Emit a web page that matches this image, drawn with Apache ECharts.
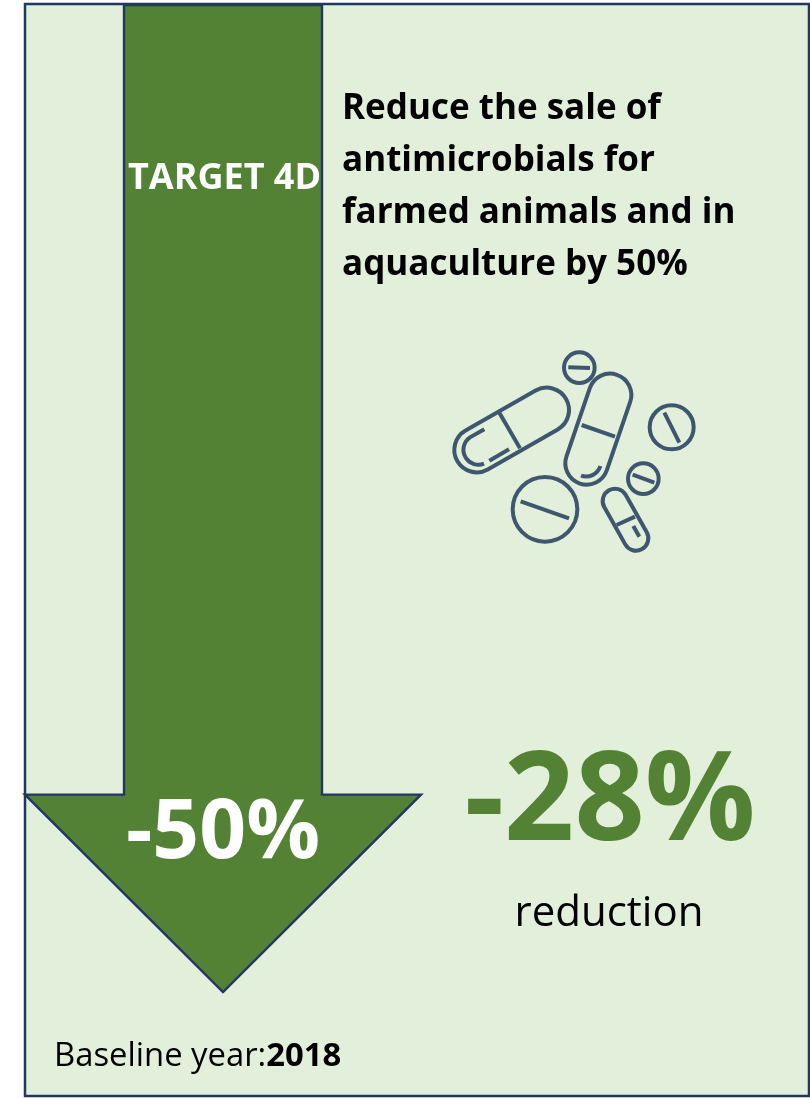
<!DOCTYPE html>
<html><head><meta charset="utf-8">
<style>html,body{margin:0;padding:0;background:#fff}#c{width:810px;height:1098px}</style>
<script src="https://cdn.jsdelivr.net/npm/echarts@6/dist/echarts.min.js"></script>
</head><body><div id="c"></div>
<script>
const targetLabel = ['TARGET 4D'];
const targetValues = [-50];
const headStartValues = [-40];
const achievedValues = [-28];
const headingLines = ['Reduce the sale of', 'antimicrobials for', 'farmed animals and in', 'aquaculture by 50%'];
const achievedCaption = ['reduction'];
const baselineParts = ['Baseline year:', '2018'];

const FONT = '"Open Sans", sans-serif';
const NAVY = '#1F3864', GREEN = '#548235', PANEL = '#E2EFDA', ICON = '#3F566F';

function capsule(x1, y1, x2, y2, r) {
  const dx = x2 - x1, dy = y2 - y1, l = Math.hypot(dx, dy);
  const nx = dy / l * r, ny = -dx / l * r;
  return `M${x1+nx} ${y1+ny}L${x2+nx} ${y2+ny}A${r} ${r} 0 0 1 ${x2-nx} ${y2-ny}L${x1-nx} ${y1-ny}A${r} ${r} 0 0 1 ${x1+nx} ${y1+ny}Z`;
}
const iconStroke = { stroke: ICON, fill: null, lineWidth: 12, lineCap: 'butt' };
const iconPaths = [
  capsule(110, 330, 320, 210, 67), 'M178 218L240 325', 'M133 268L90 292A45 45 0 0 0 132 371', 'M148 362L207 328',
  capsule(510, 165, 440, 370, 64), 'M425 255L525 290', 'M423 407A45 45 0 0 0 481 378',
  capsule(525, 483, 588, 595, 37), 'M530 555L585 530', 'M580 558L598 590',
  'M385 82L450 84', 'M673 218L718 308', 'M242 484L387 535', 'M578 404L643 428'
];
const iconCircles = [[418, 83, 46], [695, 262, 66], [315, 508, 97], [610, 416, 46]];

const txt = (x, y, text, fontSize, fontWeight, fill, align) => ({
  type: 'text', x, y, z: 10,
  style: { text, fontSize, fontWeight, fill, fontFamily: FONT, align: align || 'left', verticalAlign: 'middle' }
});

const chart = echarts.init(document.getElementById('c'), null, { renderer: 'canvas' });
chart.setOption({
  animation: false,
  grid: { left: 25, width: 396, top: 5, height: 987 },
  xAxis: { type: 'value', min: -1, max: 1, show: false },
  yAxis: { type: 'value', min: targetValues[0], max: 0, show: false },
  graphic: [
    { type: 'rect', z: -10, shape: { x: 25, y: 4, width: 784, height: 1092 },
      style: { fill: PANEL, stroke: NAVY, lineWidth: 2.5 } },
    txt(224.5, 179, targetLabel[0], 36, 700, '#fff', 'center'),
    txt(223, 835, targetValues[0] + '%', 82, 700, '#fff', 'center'),
    ...headingLines.map((t, i) => txt(342, 109 + i * 52, t, 35, 700, '#000')),
    txt(610, 805, achievedValues[0] + '%', 123, 700, GREEN, 'center'),
    txt(609, 914, achievedCaption[0], 42, 400, '#000', 'center'),
    { type: 'text', x: 54, y: 1057, z: 10, style: { text: '{a|' + baselineParts[0] + '}{b|' + baselineParts[1] + '}',
        verticalAlign: 'middle', rich: {
          a: { fontSize: 32.8, fontFamily: FONT, fontWeight: 400, fill: '#000' },
          b: { fontSize: 32.8, fontFamily: FONT, fontWeight: 700, fill: '#000' } } } }
  ],
  series: [{
    type: 'custom', coordinateSystem: 'cartesian2d', clip: false, z: 2, silent: true,
    data: [[targetValues[0], headStartValues[0]]],
    renderItem(params, api) {
      const tip = api.value(0), hs = api.value(1);
      const pts = [[-.5, 0], [.5, 0], [.5, hs], [1, hs], [0, tip], [-1, hs], [-.5, hs]].map(p => api.coord(p));
      return { type: 'polygon', shape: { points: pts }, style: { fill: GREEN, stroke: NAVY, lineWidth: 2.4, lineJoin: 'miter' } };
    }
  }, {
    type: 'custom', coordinateSystem: 'none', z: 3, silent: true, data: [0],
    renderItem() {
      return { type: 'group', x: 440, y: 340, scaleX: 1 / 3, scaleY: 1 / 3, children: [
        ...iconPaths.map(p => ({ type: 'path', shape: { pathData: p }, style: iconStroke })),
        ...iconCircles.map(c => ({ type: 'circle', shape: { cx: c[0], cy: c[1], r: c[2] }, style: iconStroke }))
      ] };
    }
  }]
});
</script></body></html>
